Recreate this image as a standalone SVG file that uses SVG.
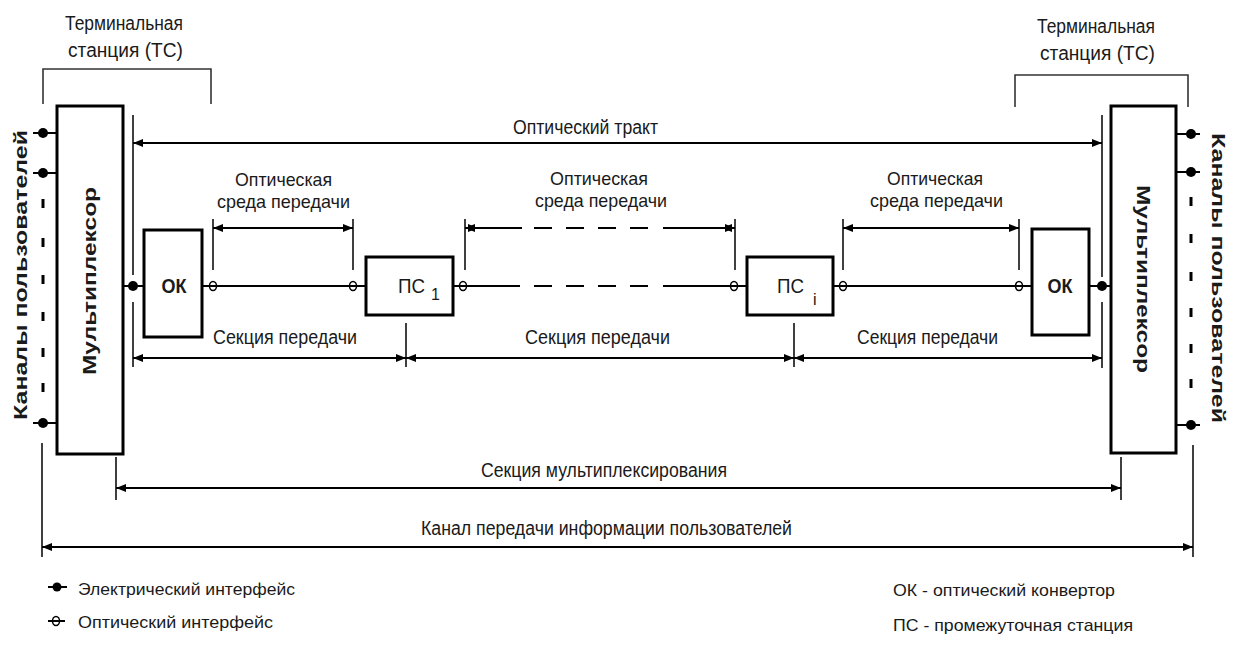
<svg xmlns="http://www.w3.org/2000/svg" width="1235" height="646" viewBox="0 0 1235 646">
<style>
  text { font-family: "Liberation Sans", Arial, sans-serif; fill: #1a1a1a; }
  .lbl { font-size: 20px; }
  .sm { font-size: 19px; }
  .big { font-size: 21px; }
  .bold { font-size: 19px; font-weight: bold; }
  .leg { font-size: 17px; }
  .sub { font-size: 16px; }
  .box { fill: #fff; stroke: #000; stroke-width: 3; }
  .ln { stroke: #000; stroke-width: 2; fill: none; }
  .tk { stroke: #111; stroke-width: 1.6; fill: none; }
  .br { stroke: #333; stroke-width: 1.6; fill: none; }
  .arr { stroke: #000; stroke-width: 2; fill: none; marker-start: url(#ah); marker-end: url(#ah); }
  .edot { fill: #000; }
  .odot { fill: none; stroke: #000; stroke-width: 1.5; }
  .dash { stroke: #000; stroke-width: 3; }
</style>
<defs>
  <marker id="ah" viewBox="0 0 10 8" refX="10" refY="4" markerWidth="10" markerHeight="8" markerUnits="userSpaceOnUse" orient="auto-start-reverse">
    <path d="M0,0 L10,4 L0,8 z" fill="#000"/>
  </marker>
</defs>
<rect width="1235" height="646" fill="#fff"/>

<!-- Terminal station labels and brackets -->
<g id="ts-left">
  <text class="lbl" x="65" y="30" textLength="118" lengthAdjust="spacingAndGlyphs">Терминальная</text>
  <text class="lbl" x="68" y="57" textLength="115" lengthAdjust="spacingAndGlyphs">станция (ТС)</text>
  <path class="br" d="M43,104 V69 H211 V104"/>
</g>
<g id="ts-right">
  <text class="lbl" x="1037" y="33" textLength="118" lengthAdjust="spacingAndGlyphs">Терминальная</text>
  <text class="lbl" x="1040" y="60" textLength="115" lengthAdjust="spacingAndGlyphs">станция (ТС)</text>
  <path class="br" d="M1015,107 V75 H1188 V107"/>
</g>

<!-- User channels -->
<g id="channels-left">
  <text class="bold" transform="translate(27,275) rotate(-90)" text-anchor="middle" textLength="290" lengthAdjust="spacingAndGlyphs">Каналы пользователей</text>
  <path class="ln" d="M33,133 H57 M33,173 H57 M33,423 H57"/>
  <circle class="edot" cx="43" cy="133" r="5"/>
  <circle class="edot" cx="43" cy="173" r="5"/>
  <circle class="edot" cx="43" cy="423" r="5"/>
  <path class="dash" d="M43,199 V208 M43,238 V247 M43,275 V284 M43,312 V321 M43,348 V357 M43,383 V392"/>
</g>
<g id="channels-right">
  <text class="bold" transform="translate(1212,278) rotate(90)" text-anchor="middle" textLength="290" lengthAdjust="spacingAndGlyphs">Каналы пользователей</text>
  <path class="ln" d="M1176,134 H1200 M1176,172 H1200 M1176,425 H1200"/>
  <circle class="edot" cx="1191" cy="134" r="5"/>
  <circle class="edot" cx="1191" cy="172" r="5"/>
  <circle class="edot" cx="1191" cy="425" r="5"/>
  <path class="dash" d="M1191,197 V206 M1191,234 V243 M1191,272 V281 M1191,308 V317 M1191,344 V353 M1191,379 V388"/>
</g>

<!-- Multiplexers -->
<g id="mux-left">
  <rect class="box" x="57" y="106" width="66" height="348"/>
  <text class="bold" transform="translate(96,281) rotate(-90)" text-anchor="middle" textLength="188" lengthAdjust="spacingAndGlyphs">Мультиплексор</text>
</g>
<g id="mux-right">
  <rect class="box" x="1111" y="106" width="65" height="347"/>
  <text class="bold" transform="translate(1137,279) rotate(90)" text-anchor="middle" textLength="188" lengthAdjust="spacingAndGlyphs">Мультиплексор</text>
</g>

<!-- Connectors -->
<g id="connectors">
  <path class="ln" d="M123,286 H144 M202,286 H366 M453,286 H520 M534,286 H552 M566,286 H584 M598,286 H616 M630,286 H648 M663,286 H747 M833,286 H1032 M1089,286 H1111"/>
  <path class="tk" d="M133,115 V275 M133,302 V367 M1102,115 V277 M1102,302 V368"/>
  <path class="tk" d="M213,219 V270 M353,219 V270 M465,219 V270 M735,219 V270 M843,219 V270 M1019,219 V270"/>
  <path class="tk" d="M406,323 V367 M794,323 V367"/>
  <path class="tk" d="M116,457 V500 M1121,457 V500 M42,443 V557 M1193,445 V557"/>
  <line class="arr" x1="133" y1="143" x2="1102" y2="143"/>
  <line class="arr" x1="213" y1="228" x2="353" y2="228"/>
  <path class="ln" d="M478,228 H522 M534,228 H552 M566,228 H584 M598,228 H616 M630,228 H648 M663,228 H722"/>
  <line class="arr" x1="465" y1="228" x2="478" y2="228"/>
  <line class="arr" x1="722" y1="228" x2="735" y2="228"/>
  <line class="arr" x1="843" y1="228" x2="1019" y2="228"/>
  <line class="arr" x1="133" y1="358" x2="406" y2="358"/>
  <line class="arr" x1="406" y1="358" x2="794" y2="358"/>
  <line class="arr" x1="794" y1="358" x2="1102" y2="358"/>
  <line class="arr" x1="116" y1="488" x2="1121" y2="488"/>
  <line class="arr" x1="42" y1="547" x2="1193" y2="547"/>
  <circle class="edot" cx="133" cy="286" r="5"/>
  <circle class="edot" cx="1102" cy="286" r="5"/>
  <ellipse class="odot" cx="213" cy="286" rx="3.5" ry="4.5"/>
  <ellipse class="odot" cx="353" cy="286" rx="3.5" ry="4.5"/>
  <ellipse class="odot" cx="463" cy="286" rx="3.5" ry="4.5"/>
  <ellipse class="odot" cx="734" cy="286" rx="3.5" ry="4.5"/>
  <ellipse class="odot" cx="843" cy="286" rx="3.5" ry="4.5"/>
  <ellipse class="odot" cx="1019" cy="286" rx="3.5" ry="4.5"/>
</g>

<!-- Nodes -->
<g id="ok-left">
  <rect class="box" x="144" y="230" width="58" height="107"/>
  <text class="big" x="174" y="293" text-anchor="middle" font-weight="bold" textLength="25" lengthAdjust="spacingAndGlyphs">ОК</text>
</g>
<g id="ps-1">
  <rect class="box" x="366" y="257" width="87" height="58"/>
  <text class="big" x="398" y="293" textLength="27" lengthAdjust="spacingAndGlyphs">ПС</text>
  <text class="sub" x="431" y="300">1</text>
</g>
<g id="ps-i">
  <rect class="box" x="747" y="257" width="86" height="58"/>
  <text class="big" x="777" y="293" textLength="27" lengthAdjust="spacingAndGlyphs">ПС</text>
  <text class="sub" x="813" y="305">i</text>
</g>
<g id="ok-right">
  <rect class="box" x="1032" y="229" width="57" height="106"/>
  <text class="big" x="1060" y="293" text-anchor="middle" font-weight="bold" textLength="25" lengthAdjust="spacingAndGlyphs">ОК</text>
</g>

<!-- Labels -->
<g id="labels">
  <text class="lbl" x="513" y="134" textLength="145" lengthAdjust="spacingAndGlyphs">Оптический тракт</text>
  <text class="sm" x="235" y="186" textLength="97" lengthAdjust="spacingAndGlyphs">Оптическая</text>
  <text class="sm" x="217" y="208" textLength="133" lengthAdjust="spacingAndGlyphs">среда передачи</text>
  <text class="sm" x="550" y="185" textLength="98" lengthAdjust="spacingAndGlyphs">Оптическая</text>
  <text class="sm" x="535" y="207" textLength="132" lengthAdjust="spacingAndGlyphs">среда передачи</text>
  <text class="sm" x="887" y="185" textLength="96" lengthAdjust="spacingAndGlyphs">Оптическая</text>
  <text class="sm" x="870" y="207" textLength="133" lengthAdjust="spacingAndGlyphs">среда передачи</text>
  <text class="lbl" x="213" y="344" textLength="144" lengthAdjust="spacingAndGlyphs">Секция передачи</text>
  <text class="lbl" x="525" y="344" textLength="145" lengthAdjust="spacingAndGlyphs">Секция передачи</text>
  <text class="lbl" x="857" y="344" textLength="141" lengthAdjust="spacingAndGlyphs">Секция передачи</text>
  <text class="lbl" x="481" y="477" textLength="246" lengthAdjust="spacingAndGlyphs">Секция мультиплексирования</text>
  <text class="lbl" x="421" y="535" textLength="371" lengthAdjust="spacingAndGlyphs">Канал передачи информации пользователей</text>
</g>

<!-- Legend -->
<g id="legend">
  <path class="ln" d="M48,587 H67 M48,621 H65"/>
  <circle class="edot" cx="57" cy="587" r="4.5"/>
  <ellipse class="odot" cx="56" cy="621" rx="3.5" ry="4.5"/>
  <text class="leg" x="78" y="595" textLength="217" lengthAdjust="spacingAndGlyphs">Электрический интерфейс</text>
  <text class="leg" x="78" y="628" textLength="195" lengthAdjust="spacingAndGlyphs">Оптический интерфейс</text>
  <text class="leg" x="893" y="596" textLength="222" lengthAdjust="spacingAndGlyphs">ОК - оптический конвертор</text>
  <text class="leg" x="893" y="631" textLength="240" lengthAdjust="spacingAndGlyphs">ПС - промежуточная станция</text>
</g>
</svg>
